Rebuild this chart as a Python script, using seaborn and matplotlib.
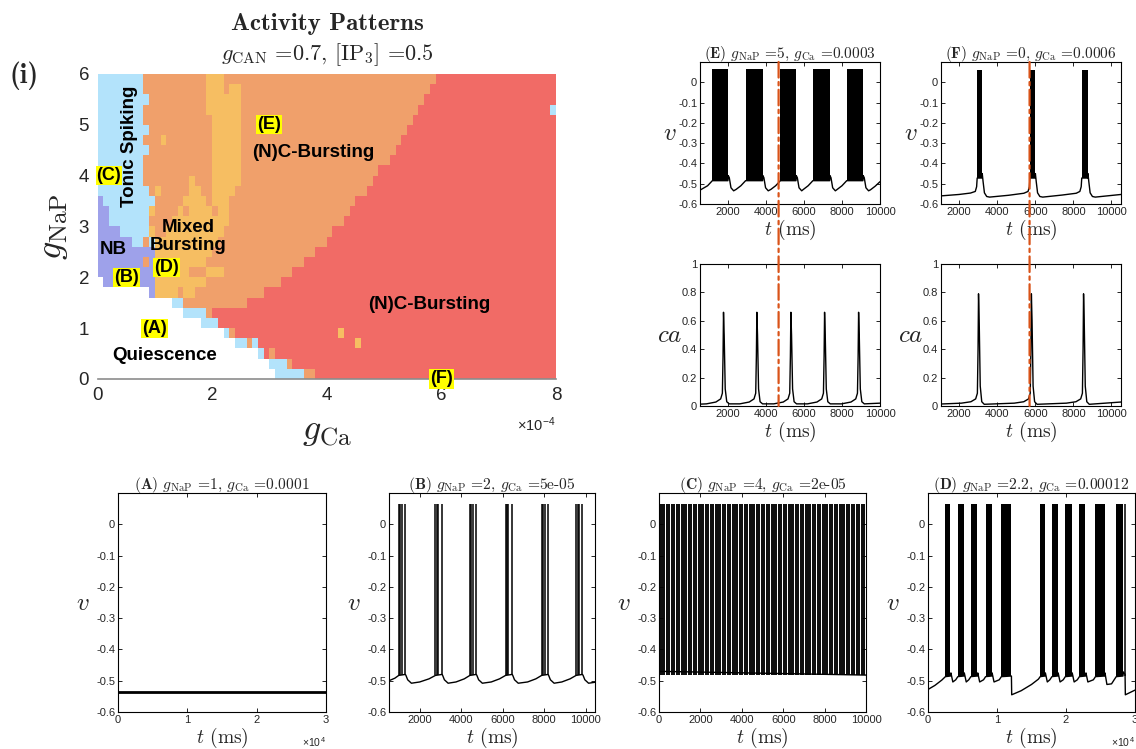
import numpy as np
import matplotlib
matplotlib.use("Agg")
import matplotlib.pyplot as plt
import seaborn as sns
from matplotlib.colors import ListedColormap
from matplotlib.patches import ConnectionPatch

# ---------------- activity map ----------------
# 30 rows (g_NaP from 6 down to 0, step 0.2) x 80 columns (g_Ca 0 -> 8e-4, step 1e-5)
# . quiescence, t tonic spiking, n NB, m mixed bursting, o (N)C-bursting, r (N)C-bursting (red)
REGIME_CODES = ".tnmor"
REGIME_COLORS = ["#ffffff", "#b3e3fb", "#9ea1ea", "#f6be62", "#f0a06b", "#f16b66"]
GCA_STEP, GNAP_STEP, GNAP_MAX = 1e-5, 0.2, 6

regime_rows = [
    "t8 o11 m3 o37 r21",
    "t8 o11 m3 o1 m2 o33 r22",
    "t9 o10 m6 o32 r23",
    "t8 o11 m6 o31 r23 t1",
    "t8 o12 m5 o30 r25",
    "t9 o11 m5 o29 r26",
    "t8 o3 m1 o8 m5 o28 r27",
    "t9 o11 m5 o27 r28",
    "t8 o12 m5 o26 r29",
    "t8 o12 m5 o24 r31",
    "t8 o8 m1 o3 m5 o23 r32",
    "t9 o1 m1 o5 m2 o2 m4 o23 r33",
    "n1 t9 o5 m4 o1 m3 o22 r35",
    "n2 t7 m1 o4 m1 o1 m4 o1 m2 o21 r36",
    "n2 t7 o4 m10 o20 r37",
    "n4 t5 m1 o2 m10 o19 r39",
    "n6 t2 o1 t1 m11 o19 r40",
    "n10 m10 o18 r42",
    "n8 o1 n1 m9 o17 r44",
    "n10 m6 o3 m3 o12 r46",
    ".1 n9 m9 o13 r48",
    ".9 n1 m4 o1 m2 o12 r51",
    ".13 t2 o11 r54",
    ".15 t4 o1 r60",
    ".18 t3 r59",
    ".22 t1 o1 r18 m1 r37",
    ".24 t2 o1 t1 r17 m1 r34",
    ".28 t1 r1 o1 r49",
    ".30 t3 o1 r46",
    ".31 t5 o2 r42",
]

region_text = ["Tonic Spiking", "(N)C-Bursting", "NB", "Mixed\nBursting", "(N)C-Bursting", "Quiescence"]
region_gca = [0.56e-4, 3.77e-4, 0.28e-4, 1.58e-4, 5.79e-4, 1.17e-4]
region_gnap = [4.57, 4.45, 2.54, 2.80, 1.46, 0.46]
region_rot = [90, 0, 0, 0, 0, 0]

# sample points (A)-(F)
panel_names = ["A", "B", "C", "D", "E", "F"]
panel_gnap = [1, 2, 4, 2.2, 5, 0]
panel_gca = [1e-4, 5e-5, 2e-5, 1.2e-4, 3e-4, 6e-4]
panel_gnap_txt = ["1", "2", "4", "2.2", "5", "0"]
panel_gca_txt = ["0.0001", "5e-05", "2e-05", "0.00012", "0.0003", "0.0006"]

# ---------------- voltage / calcium traces ----------------
SPIKE_TOP = 0.065

A_t = [0, 30000]
A_v = [-0.535, -0.535]

B_t = [520, 800, 990, 1300, 1330, 1420, 1600, 2000, 2450, 2760, 3070, 3100, 3190, 3370, 3750,
       4150, 4420, 4720, 4750, 4840, 5020, 5450, 5850, 6140, 6450, 6480, 6570, 6750, 7200, 7600,
       7880, 8180, 8210, 8300, 8480, 8850, 9250, 9540, 9840, 9870, 9960, 10140, 10450]
B_v = [-0.500, -0.492, -0.483, -0.480, -0.482, -0.497, -0.508, -0.504, -0.494, -0.483, -0.480,
       -0.482, -0.497, -0.508, -0.504, -0.494, -0.483, -0.480, -0.482, -0.497, -0.508, -0.504,
       -0.494, -0.483, -0.480, -0.482, -0.497, -0.508, -0.504, -0.494, -0.483, -0.480, -0.482,
       -0.497, -0.508, -0.504, -0.494, -0.483, -0.480, -0.482, -0.497, -0.508, -0.505]
B_spikes = [990, 1060, 1130, 1300, 2760, 2830, 2900, 3070, 4420, 4490, 4560, 4720,
            6140, 6210, 6280, 6450, 7880, 7950, 8020, 8180, 9540, 9610, 9680, 9840]

C_t = [0, 10000]
C_v = [-0.47, -0.482]
C_spikes = [30, 148, 265, 383, 500, 618, 735, 853, 970, 1088, 1205, 1323, 1440, 1558, 1675,
            1793, 1910, 2028, 2145, 2263, 2380, 2498, 2615, 2733, 2850, 2968, 3085, 3203, 3320,
            3438, 3555, 3673, 3790, 3908, 4025, 4143, 4260, 4378, 4495, 4613, 4730, 4848, 4965,
            5083, 5200, 5318, 5435, 5553, 5670, 5788, 5905, 6023, 6140, 6258, 6375, 6493, 6610,
            6728, 6845, 6963, 7080, 7198, 7315, 7433, 7550, 7668, 7785, 7903, 8020, 8138, 8255,
            8373, 8490, 8608, 8725, 8843, 8960, 9078, 9195, 9313, 9430, 9548, 9665, 9783, 9900]

D_t = [0, 1000, 2000, 2520, 3250, 3320, 3600, 4020, 4320, 5190, 5260, 5540, 5910, 6210,
       7140, 7210, 7490, 8050, 8350, 9220, 9290, 9570, 10330, 10630, 12090, 12130, 13500,
       15000, 16000, 16260, 16940, 17010, 17290, 17660, 17960, 18790, 18860, 19140, 19600,
       19900, 20830, 20900, 21180, 21640, 21940, 22820, 22890, 23170, 23970, 24270, 25580,
       25650, 25930, 26600, 26980, 27280, 28250, 28320, 28560, 28600, 30000]
D_v = [-0.528, -0.515, -0.498, -0.487, -0.485, -0.475, -0.504, -0.497, -0.487, -0.485, -0.475,
       -0.504, -0.497, -0.487, -0.485, -0.475, -0.504, -0.497, -0.487, -0.485, -0.475, -0.504,
       -0.497, -0.487, -0.485, -0.545, -0.532, -0.512, -0.495, -0.487, -0.485, -0.475, -0.504,
       -0.497, -0.487, -0.485, -0.475, -0.504, -0.497, -0.487, -0.485, -0.475, -0.504, -0.497,
       -0.487, -0.485, -0.475, -0.504, -0.497, -0.487, -0.485, -0.475, -0.512, -0.510, -0.497,
       -0.487, -0.485, -0.472, -0.480, -0.545, -0.530]
D_bursts = [(2520, 3250), (4320, 5190), (6210, 7140), (8350, 9220), (10630, 12090),
            (16260, 16940), (17960, 18790), (19900, 20830), (21940, 22820), (24270, 25580),
            (27280, 28250)]
D_spikes = [28590]

E_t = [530, 580, 930, 1180, 2000, 2015, 2070, 2160, 2300, 2430, 2680, 2930, 3820, 3835, 3890,
       3980, 4120, 4260, 4510, 4760, 5580, 5595, 5650, 5740, 5880, 5970, 6220, 6470, 7350,
       7365, 7420, 7510, 7650, 7750, 8000, 8250, 9100, 9115, 9170, 9260, 9400, 9500, 9750, 10000]
E_v = [-0.531, -0.529, -0.510, -0.485, -0.485, -0.460, -0.470, -0.520, -0.535, -0.528, -0.510,
       -0.485, -0.485, -0.460, -0.470, -0.520, -0.535, -0.528, -0.510, -0.485, -0.485, -0.460,
       -0.470, -0.520, -0.535, -0.528, -0.510, -0.485, -0.485, -0.460, -0.470, -0.520, -0.535,
       -0.528, -0.510, -0.485, -0.485, -0.460, -0.470, -0.520, -0.535, -0.530, -0.512, -0.490]
E_bursts = [(1180, 2000), (2930, 3820), (4760, 5580), (6470, 7350), (8250, 9100)]
E_marker = 4665

F_t = [1050, 2000, 2600, 2850, 2920, 2950, 3200, 3215, 3260, 3330, 3450, 3600, 4600, 5400,
       5620, 5690, 5720, 5990, 6005, 6050, 6120, 6240, 6390, 7400, 8150, 8340, 8410, 8440,
       8750, 8765, 8810, 8880, 9000, 9150, 10500]
F_v = [-0.560, -0.553, -0.546, -0.538, -0.515, -0.472, -0.472, -0.450, -0.490, -0.545, -0.563,
       -0.566, -0.557, -0.547, -0.538, -0.515, -0.472, -0.472, -0.450, -0.490, -0.545, -0.563,
       -0.566, -0.556, -0.547, -0.538, -0.515, -0.472, -0.472, -0.450, -0.490, -0.545, -0.563,
       -0.566, -0.553]
F_bursts = [(2950, 3200), (5720, 5990), (8440, 8750)]
F_marker = 5700

# calcium transients: peak times and the shape of one transient around its peak
ca_shape_dt = [-900, -400, -150, -60, -25, 0, 35, 90, 170, 300]
E_ca_peaks = [1767, 3521, 5311, 7084, 8874]
E_ca_shape = [0.015, 0.028, 0.050, 0.090, 0.35, 0.66, 0.50, 0.12, 0.030, 0.015]
E_ca_ends = [(530, 0.013), (10000, 0.020)]
F_ca_peaks = [3020, 5795, 8534]
F_ca_shape = [0.020, 0.030, 0.050, 0.090, 0.40, 0.79, 0.60, 0.14, 0.030, 0.012]
F_ca_ends = [(1050, 0.014), (10500, 0.028)]

v_ticks = [-0.6, -0.5, -0.4, -0.3, -0.2, -0.1, 0]
v_tick_labels = ["-0.6", "-0.5", "-0.4", "-0.3", "-0.2", "-0.1", "0"]
ca_ticks = [0, 0.2, 0.4, 0.6, 0.8, 1]
ca_tick_labels = ["0", "0.2", "0.4", "0.6", "0.8", "1"]

# ---------------- style ----------------
sns.set_style("ticks")
plt.rcParams["font.family"] = ["Liberation Sans", "DejaVu Sans"]
plt.rcParams["mathtext.fontset"] = "cm"
plt.rcParams["axes.unicode_minus"] = False
INK = "#262626"
W, H = 1136, 749


def box(l, r, t, b):
    return [l / W, 1 - b / H, (r - l) / W, (b - t) / H]


def parse_row(row):
    cells = []
    for tok in row.split():
        cells += [REGIME_CODES.index(tok[0])] * int(tok[1:])
    return cells


def panel_title(i):
    return ("(" + r"$\mathbf{%s}$" % panel_names[i] + ") "
            + r"$g_{\rm NaP}$ =" + panel_gnap_txt[i] + ", "
            + r"$g_{\rm Ca}$ =" + panel_gca_txt[i])


def style_trace(ax, xlim, xticks, xlabels, ylabel, kind="v", sci=False, xpad=1):
    ax.set_xlim(xlim)
    ax.set_xticks(xticks)
    ax.set_xticklabels(xlabels)
    if kind == "v":
        ax.set_ylim(-0.6, 0.1)
        ax.set_yticks(v_ticks)
        ax.set_yticklabels(v_tick_labels)
    else:
        ax.set_ylim(0, 1)
        ax.set_yticks(ca_ticks)
        ax.set_yticklabels(ca_tick_labels)
    ax.tick_params(direction="in", top=True, right=True, length=3, width=0.6,
                   labelsize=8, colors="k", labelcolor=INK, pad=2)
    for s in ax.spines.values():
        s.set_visible(True)
        s.set_linewidth(0.8)
        s.set_color("k")
    ax.set_xlabel(r"$t$ (ms)", fontsize=14, family="cmr10", labelpad=xpad)
    ax.set_ylabel(ylabel, fontsize=18, rotation=0, ha="center", va="center")
    ax.yaxis.set_label_coords(-0.17, 0.5)
    if sci:
        ax.text(1.0, -0.105, r"×10$^{\mathregular{4}}$", transform=ax.transAxes,
                ha="right", va="top", fontsize=7.5, color=INK)


def draw_v(ax, t, v, bursts=(), spikes=(), trough=-0.485, top=SPIKE_TOP, lw=1.0, spike_lw=1.1):
    for s, e in bursts:
        ax.fill_between([s, e], trough, top, color="k", lw=0)
    if len(spikes):
        ax.vlines(spikes, trough, top, color="k", lw=spike_lw)
    sns.lineplot(x=t, y=v, ax=ax, color="k", linewidth=lw, sort=False, estimator=None)


def draw_ca(ax, peaks, shape, ends):
    t = [ends[0][0]]
    c = [ends[0][1]]
    for p in peaks:
        t += [p + d for d in ca_shape_dt]
        c += list(shape)
    t.append(ends[1][0])
    c.append(ends[1][1])
    sns.lineplot(x=t, y=c, ax=ax, color="k", linewidth=1.0, sort=False, estimator=None)


fig = plt.figure(figsize=(W / 100, H / 100), dpi=100)

# ---------------- activity map ----------------
regime = np.array([parse_row(r) for r in regime_rows])
n_rows, n_cols = regime.shape

axh = fig.add_axes(box(97.5, 556, 74, 379))
sns.heatmap(regime, ax=axh, cmap=ListedColormap(REGIME_COLORS), vmin=-0.5, vmax=5.5,
            cbar=False, xticklabels=False, yticklabels=False, linewidths=0, rasterized=True)
axh.set_xticks(np.arange(0, n_cols + 1, 20))
axh.set_xticklabels(["0", "2", "4", "6", "8"])
axh.set_yticks(np.arange(0, n_rows + 1, 5))
axh.set_yticklabels(["6", "5", "4", "3", "2", "1", "0"])
axh.tick_params(length=0, labelsize=13.5, labelcolor=INK, pad=6)
for side in ["top", "right", "left"]:
    axh.spines[side].set_visible(False)
axh.spines["bottom"].set_visible(True)
axh.spines["bottom"].set_color("#8c8c8c")
axh.spines["bottom"].set_linewidth(1.2)
axh.set_xlabel(r"$g_{\rm Ca}$", fontsize=26)
axh.xaxis.set_label_coords(0.5, -0.11)
axh.set_ylabel(r"$g_{\rm NaP}$", fontsize=26)
axh.yaxis.set_label_coords(-0.06, 0.5)


def hx(gca):
    return gca / GCA_STEP


def hy(gnap):
    return (GNAP_MAX - gnap) / GNAP_STEP


for txt, gx, gy, rot in zip(region_text, region_gca, region_gnap, region_rot):
    axh.text(hx(gx), hy(gy), txt, rotation=rot, ha="center", va="center",
             fontsize=13.5, fontweight="bold", color="k", linespacing=1.1)
for name, gx, gy in zip(panel_names, panel_gca, panel_gnap):
    axh.text(hx(gx), hy(gy), "(%s)" % name, ha="center", va="center", fontsize=13,
             fontweight="bold", color="k", clip_on=False,
             bbox=dict(boxstyle="square,pad=0.06", fc="#ffff00", ec="none"))

fig.text(327 / W, 1 - 24 / H, "Activity Patterns", family="cmb10", fontsize=18,
         ha="center", va="center")
fig.text(327 / W, 1 - 55 / H, r"$g_{\rm CAN}$ =0.7, [IP$_3$] =0.5", family="cmr10",
         fontsize=16, ha="center", va="center")
fig.text(24 / W, 1 - 76 / H, "(i)", family="cmb10", fontsize=20, ha="center", va="center")
fig.text(556 / W, 1 - 425 / H, r"×10$^{\mathregular{-4}}$", fontsize=10.5, ha="right",
         va="center", color=INK)

# ---------------- (E) and (F) ----------------
axEv = fig.add_axes(box(700, 880, 62, 204))
axEc = fig.add_axes(box(700, 880, 264, 406))
axFv = fig.add_axes(box(941, 1121, 62, 204))
axFc = fig.add_axes(box(941, 1121, 264, 406))

t_ticks = [2000, 4000, 6000, 8000, 10000]
t_labels = ["2000", "4000", "6000", "8000", "10000"]

draw_v(axEv, E_t, E_v, bursts=E_bursts)
style_trace(axEv, (530, 10000), t_ticks, t_labels, r"$v$")
axEv.set_title(panel_title(4), family="cmr10", fontsize=11, pad=3)
draw_ca(axEc, E_ca_peaks, E_ca_shape, E_ca_ends)
style_trace(axEc, (530, 10000), t_ticks, t_labels, r"$ca$", kind="ca")

draw_v(axFv, F_t, F_v, bursts=F_bursts, trough=-0.472, top=0.06)
style_trace(axFv, (1050, 10500), t_ticks, t_labels, r"$v$")
axFv.set_title(panel_title(5), family="cmr10", fontsize=11, pad=3)
draw_ca(axFc, F_ca_peaks, F_ca_shape, F_ca_ends)
style_trace(axFc, (1050, 10500), t_ticks, t_labels, r"$ca$", kind="ca")

for axv, axc, tm in [(axEv, axEc, E_marker), (axFv, axFc, F_marker)]:
    con = ConnectionPatch(xyA=(tm, 0.1), coordsA=axv.transData, xyB=(tm, 0),
                          coordsB=axc.transData, color="#d95319", lw=1.6,
                          linestyle=(0, (7, 2, 1.5, 2)), zorder=10)
    fig.add_artist(con)

# ---------------- (A)-(D) ----------------
axA = fig.add_axes(box(118, 326, 493, 712))
axB = fig.add_axes(box(389, 595, 493, 712))
axC = fig.add_axes(box(659, 866, 493, 712))
axD = fig.add_axes(box(928, 1135, 493, 712))

draw_v(axA, A_t, A_v, lw=2.0)
style_trace(axA, (0, 30000), [0, 10000, 20000, 30000], ["0", "1", "2", "3"], r"$v$", sci=True)
draw_v(axB, B_t, B_v, spikes=B_spikes, trough=-0.482)
style_trace(axB, (520, 10450), t_ticks, t_labels, r"$v$")
draw_v(axC, C_t, C_v, spikes=C_spikes, trough=-0.482, spike_lw=1.35)
style_trace(axC, (0, 10000), [0] + t_ticks, ["0"] + t_labels, r"$v$")
draw_v(axD, D_t, D_v, bursts=D_bursts, spikes=D_spikes)
style_trace(axD, (0, 30000), [0, 10000, 20000, 30000], ["0", "1", "2", "3"], r"$v$", sci=True)

for i, ax in enumerate([axA, axB, axC, axD]):
    ax.set_title(panel_title(i), family="cmr10", fontsize=11.2, pad=3)

fig.savefig("out.png", dpi=100)
